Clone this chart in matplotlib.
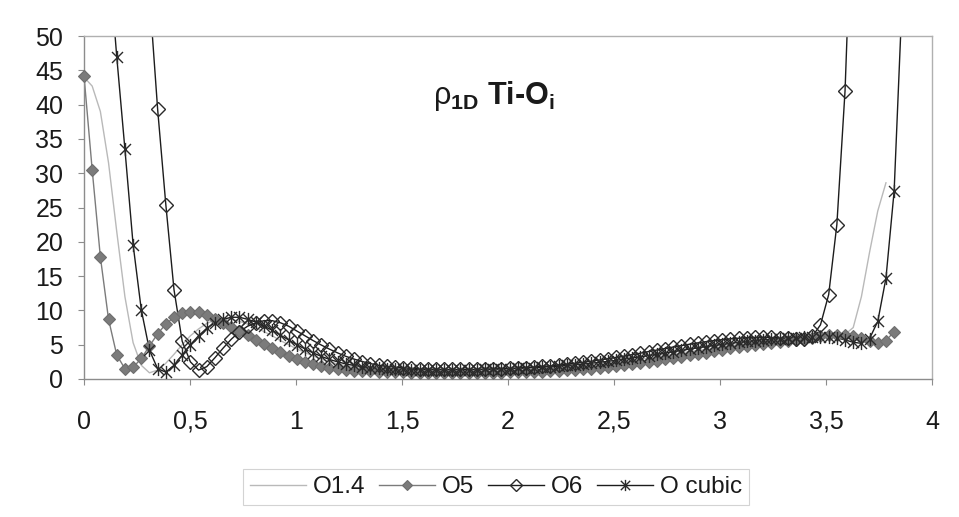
import numpy as np
import matplotlib

matplotlib.use("Agg")
import matplotlib.pyplot as plt
from matplotlib.lines import Line2D
from matplotlib.path import Path

plt.rcParams["font.family"] = ["Liberation Sans", "DejaVu Sans"]
plt.rcParams["mathtext.fontset"] = "custom"
plt.rcParams["mathtext.rm"] = "Liberation Sans"
plt.rcParams["mathtext.bf"] = "Liberation Sans:bold"
plt.rcParams["mathtext.it"] = "Liberation Sans:italic"

# sampling step along the line (same grid for all series)
STEP = 0.0386
nan = np.nan

o14 = [44.0, 42.7, 39.0, 31.5, 21.5, 12.0, 5.3, 2.0, 0.9, 1.3,
       2.3, 3.6, 5.0, 6.3, 7.3, 8.1, 8.6, 8.8, 8.7, 8.4,
       8.0, 7.5, 6.9, 6.3, 5.6, 5.0, 4.4, 3.85, 3.35, 2.9,
       2.5, 2.2, 1.95, 1.75, 1.6, 1.48, 1.38, 1.3, 1.24, 1.2,
       1.17, 1.15, 1.13, 1.12, 1.11, 1.1, 1.1, 1.1, 1.11, 1.12,
       1.14, 1.16, 1.19, 1.22, 1.26, 1.31, 1.37, 1.44, 1.52, 1.61,
       1.71, 1.82, 1.94, 2.07, 2.21, 2.36, 2.52, 2.69, 2.87, 3.05,
       3.24, 3.43, 3.62, 3.81, 4.0, 4.18, 4.36, 4.53, 4.7, 4.86,
       5.01, 5.15, 5.28, 5.4, 5.51, 5.61, 5.7, 5.78, 5.85, 5.91,
       5.97, 6.03, 6.15, 6.5, 7.5, 12.0, 18.5, 24.5, 28.6]

o5 = [44.2, 30.5, 17.8, 8.7, 3.5, 1.5, 1.7, 3.0, 4.8, 6.6,
      8.0, 9.0, 9.6, 9.8, 9.7, 9.3, 8.8, 8.2, 7.6, 7.0,
      6.4, 5.7, 5.1, 4.5, 3.95, 3.4, 2.9, 2.5, 2.15, 1.85,
      1.6, 1.45, 1.32, 1.22, 1.15, 1.1, 1.05, 1.0, 0.98, 0.96,
      0.94, 0.92, 0.91, 0.9, 0.9, 0.9, 0.9, 0.9, 0.9, 0.91,
      0.92, 0.93, 0.95, 0.97, 1.0, 1.03, 1.07, 1.12, 1.18, 1.25,
      1.33, 1.42, 1.52, 1.63, 1.75, 1.88, 2.02, 2.17, 2.33, 2.5,
      2.68, 2.87, 3.06, 3.26, 3.46, 3.66, 3.86, 4.06, 4.26, 4.45,
      4.63, 4.8, 4.97, 5.13, 5.28, 5.43, 5.57, 5.7, 5.83, 5.95,
      6.2, 6.35, 6.45, 6.4, 6.2, 5.95, 5.6, 5.3, 5.6, 6.9]

o6 = [nan, nan, nan, nan, nan, nan, nan, nan, 56.0, 39.3,
      25.4, 13.0, 5.5, 2.5, 1.3, 1.8, 3.1, 4.5, 5.8, 6.9,
      7.7, 8.2, 8.5, 8.5, 8.2, 7.7, 7.0, 6.3, 5.6, 4.95,
      4.35, 3.8, 3.3, 2.9, 2.55, 2.25, 2.0, 1.85, 1.72, 1.62,
      1.55, 1.5, 1.46, 1.43, 1.41, 1.4, 1.4, 1.4, 1.41, 1.43,
      1.46, 1.5, 1.55, 1.6, 1.67, 1.75, 1.84, 1.94, 2.05, 2.17,
      2.3, 2.44, 2.6, 2.77, 2.95, 3.14, 3.34, 3.55, 3.77, 4.0,
      4.22, 4.44, 4.66, 4.87, 5.07, 5.26, 5.44, 5.6, 5.74, 5.86,
      5.95, 6.02, 6.06, 6.07, 6.05, 6.0, 5.94, 5.88, 5.85, 6.2,
      7.9, 12.3, 22.5, 42.0, 75.0]

o_cubic = [nan, nan, nan, 62.0, 47.0, 33.5, 19.6, 10.1, 4.2, 1.5,
           1.0, 2.0, 3.5, 5.0, 6.3, 7.4, 8.2, 8.7, 9.0, 9.0,
           8.7, 8.3, 7.7, 7.1, 6.4, 5.7, 5.0, 4.4, 3.8, 3.3,
           2.85, 2.5, 2.2, 1.97, 1.8, 1.67, 1.57, 1.5, 1.45, 1.41,
           1.38, 1.36, 1.35, 1.34, 1.34, 1.34, 1.35, 1.36, 1.38, 1.4,
           1.43, 1.46, 1.5, 1.55, 1.6, 1.66, 1.73, 1.8, 1.88, 1.97,
           2.07, 2.18, 2.3, 2.43, 2.57, 2.72, 2.88, 3.05, 3.23, 3.41,
           3.6, 3.79, 3.98, 4.17, 4.36, 4.54, 4.72, 4.89, 5.05, 5.2,
           5.34, 5.47, 5.59, 5.7, 5.8, 5.89, 5.97, 6.04, 6.1, 6.14,
           6.16, 6.14, 6.0, 5.7, 5.35, 5.2, 5.9, 8.4, 14.7, 27.4,
           56.0]

series_names = ["O1.4", "O5", "O6", "O cubic"]
x_ticks = [0, 0.5, 1, 1.5, 2, 2.5, 3, 3.5, 4]
x_tick_labels = ["0", "0,5", "1", "1,5", "2", "2,5", "3", "3,5", "4"]
y_ticks = [0, 5, 10, 15, 20, 25, 30, 35, 40, 45, 50]
Y_MAX = 50

# Excel style "star" marker: an x with a vertical bar
star = Path([(-1, -1), (1, 1), (-1, 1), (1, -1), (0, -1.2), (0, 1.2)],
            [Path.MOVETO, Path.LINETO, Path.MOVETO, Path.LINETO,
             Path.MOVETO, Path.LINETO])

styles = {
    "O1.4": dict(color="#b9b9b9", lw=1.0, marker=None),
    "O5": dict(color="#7b7b7b", lw=1.0, marker="D", ms=6.5,
               mfc="#7b7b7b", mec="#6e6e6e", mew=0.8),
    "O6": dict(color="#1c1c1c", lw=1.0, marker="D", ms=6.8,
               mfc="none", mec="#2a2a2a", mew=1.0),
    "O cubic": dict(color="#1c1c1c", lw=1.0, marker=star, ms=9.5,
                    mfc="none", mec="#2a2a2a", mew=1.0),
}

fig = plt.figure(figsize=(9.59, 5.17), dpi=100)
ax = fig.add_axes([84 / 959, 1 - 379 / 517, (932 - 84) / 959, (379 - 36) / 517])

handles = []
for name, vals in zip(series_names, [o14, o5, o6, o_cubic]):
    y = np.array(vals, dtype=float)
    x = STEP * np.arange(len(y))
    st = styles[name]
    ax.plot(x, y, color=st["color"], lw=st["lw"], solid_joinstyle="round", zorder=2)
    if st["marker"] is not None:
        ym = np.where(y <= Y_MAX, y, np.nan)
        ax.plot(x, ym, ls="none", marker=st["marker"], ms=st["ms"],
                mfc=st["mfc"], mec=st["mec"], mew=st["mew"],
                clip_on=False, zorder=3)
        handles.append(Line2D([], [], color=st["color"], lw=st["lw"],
                              marker=st["marker"], ms=st["ms"] * 0.85,
                              mfc=st["mfc"], mec=st["mec"], mew=st["mew"],
                              label=name))
    else:
        handles.append(Line2D([], [], color=st["color"], lw=st["lw"], label=name))

ax.set_xlim(0, 4)
ax.set_ylim(0, Y_MAX)
ax.set_xticks(x_ticks)
ax.set_xticklabels(x_tick_labels)
ax.set_yticks(y_ticks)

for side in ["top", "right"]:
    ax.spines[side].set_color("#b0b0b0")
    ax.spines[side].set_linewidth(1.0)
for side in ["left", "bottom"]:
    ax.spines[side].set_color("#8c8c8c")
    ax.spines[side].set_linewidth(1.0)

ax.tick_params(axis="both", direction="out", length=4, width=0.8,
               color="#8c8c8c", labelsize=18, labelcolor="#1a1a1a")
ax.tick_params(axis="x", pad=18)
ax.tick_params(axis="y", pad=11)

ax.text(0.483, 0.825, r"$\mathrm{\rho}_{\mathbf{1D}}$ Ti-O$_{\mathbf{i}}$",
        transform=ax.transAxes, ha="center", va="center",
        fontsize=22, fontweight="bold", color="#1a1a1a")

leg = fig.legend(handles=handles, loc="center",
                 bbox_to_anchor=(496 / 959, 1 - 487 / 517), ncol=4,
                 fontsize=17.5, frameon=True, fancybox=False,
                 handlelength=2.3, handletextpad=0.3, columnspacing=0.55,
                 borderpad=0.3)
leg.get_frame().set_edgecolor("#c8c8c8")
leg.get_frame().set_linewidth(0.8)
for t in leg.get_texts():
    t.set_color("#1a1a1a")

fig.savefig("out.png", dpi=100)
